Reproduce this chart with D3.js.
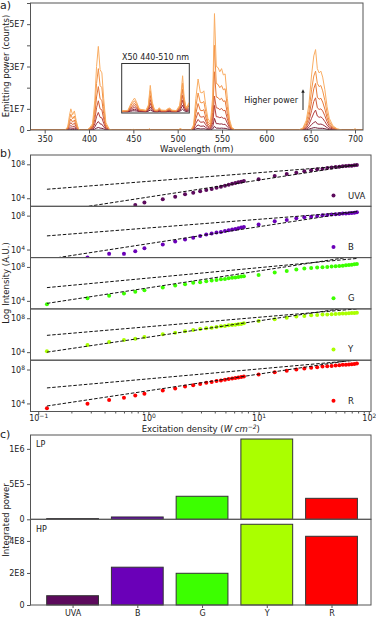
<!DOCTYPE html>
<html>
<head>
<meta charset="utf-8">
<title>Emission spectra</title>
<script src="https://d3js.org/d3.v7.min.js"></script>
<style>
  body { margin: 0; background: #fff; }
  svg text { font-family: 'DejaVu Sans', sans-serif; fill: #222; }
</style>
</head>
<body>
<div class="chart"></div>
<script>

// ---------- a) spectra (counts / 1E7), lowest power first ----------
const wavelengths = [
  334, 373, 376, 378, 379.5, 381.5, 383.5, 385.5, 388, 390,
  398, 401, 404, 406.5, 408.5, 410.5, 412.5, 414.5, 416.5, 419,
  423, 426, 447, 450, 453, 466, 468, 470, 500, 503,
  506, 515, 518, 520.5, 523, 525.5, 527.5, 529.5, 531.5, 534,
  537, 539.5, 541.5, 543.5, 545.5, 547.5, 549.5, 551.5, 553.5, 556,
  558.5, 561, 565, 636, 641, 645, 648, 651, 653.5, 655.5,
  657.5, 659.5, 661.5, 663.5, 666, 668.5, 671, 675, 680, 686,
  697, 700, 703, 709
]

const spectra = [
  [0, 0, 0, 0.02, 0.03, 0.02, 0.03, 0.01, 0, 0,
   0, 0, 0.01, 0.04, 0.09, 0.12, 0.09, 0.08, 0.05, 0.01,
   0, 0, 0, 0, 0, 0, 0, 0, 0, 0,
   0, 0, 0.01, 0.05, 0.07, 0.05, 0.05, 0.06, 0.04, 0.02,
   0.01, 0.05, 0.17, 0.09, 0.09, 0.08, 0.09, 0.08, 0.08, 0.05,
   0.02, 0, 0, 0, 0, 0.01, 0.04, 0.08, 0.11, 0.11,
   0.09, 0.08, 0.08, 0.08, 0.06, 0.03, 0.02, 0.01, 0, 0,
   0, 0, 0, 0],
  [0, 0, 0.02, 0.07, 0.1, 0.07, 0.09, 0.05, 0.01, 0,
   0, 0.01, 0.03, 0.14, 0.3, 0.4, 0.29, 0.27, 0.15, 0.04,
   0, 0, 0, 0, 0, 0, 0.01, 0, 0, 0.01,
   0, 0, 0.03, 0.15, 0.24, 0.18, 0.18, 0.19, 0.12, 0.06,
   0.04, 0.16, 0.55, 0.3, 0.3, 0.28, 0.29, 0.26, 0.27, 0.15,
   0.05, 0.01, 0, 0, 0.01, 0.05, 0.12, 0.26, 0.35, 0.4,
   0.29, 0.27, 0.28, 0.25, 0.19, 0.11, 0.06, 0.02, 0, 0,
   0, 0.01, 0, 0],
  [0, 0, 0.03, 0.15, 0.21, 0.15, 0.19, 0.09, 0.01, 0,
   0, 0.03, 0.06, 0.29, 0.63, 0.83, 0.6, 0.57, 0.32, 0.07,
   0.01, 0, 0, 0.01, 0, 0, 0.01, 0, 0, 0.01,
   0, 0, 0.05, 0.32, 0.5, 0.37, 0.37, 0.39, 0.25, 0.12,
   0.07, 0.34, 1.16, 0.63, 0.62, 0.58, 0.61, 0.55, 0.56, 0.32,
   0.11, 0.03, 0, 0, 0.02, 0.09, 0.25, 0.55, 0.8, 0.94,
   0.66, 0.6, 0.62, 0.55, 0.4, 0.23, 0.12, 0.04, 0.01, 0,
   0, 0.01, 0, 0],
  [0, 0, 0.05, 0.25, 0.35, 0.25, 0.32, 0.16, 0.02, 0,
   0, 0.04, 0.1, 0.49, 1.05, 1.38, 1.0, 0.95, 0.53, 0.12,
   0.01, 0, 0, 0.01, 0, 0, 0.02, 0, 0, 0.02,
   0, 0, 0.09, 0.53, 0.84, 0.62, 0.61, 0.65, 0.42, 0.19,
   0.12, 0.56, 1.6, 1.05, 1.03, 0.96, 1.02, 0.91, 0.93, 0.53,
   0.18, 0.04, 0, 0, 0.03, 0.16, 0.42, 0.91, 1.35, 1.52,
   1.05, 0.97, 1.0, 0.9, 0.67, 0.39, 0.19, 0.07, 0.02, 0,
   0, 0.02, 0, 0],
  [0, 0, 0.08, 0.36, 0.52, 0.37, 0.47, 0.23, 0.03, 0,
   0, 0.06, 0.16, 0.73, 1.56, 2.05, 1.48, 1.4, 0.78, 0.18,
   0.02, 0, 0, 0.02, 0, 0, 0.03, 0, 0, 0.03,
   0, 0, 0.13, 0.78, 1.25, 0.93, 0.91, 0.96, 0.62, 0.29,
   0.18, 0.83, 2.75, 1.56, 1.53, 1.43, 1.5, 1.35, 1.38, 0.78,
   0.26, 0.06, 0, 0, 0.04, 0.23, 0.62, 1.35, 1.95, 2.2,
   1.55, 1.45, 1.5, 1.32, 0.99, 0.57, 0.29, 0.1, 0.03, 0,
   0, 0.03, 0, 0],
  [0, 0, 0.1, 0.5, 0.75, 0.52, 0.66, 0.33, 0.04, 0,
   0, 0.09, 0.22, 1.0, 2.2, 2.9, 2.1, 2.0, 1.1, 0.25,
   0.02, 0, 0, 0.02, 0, 0, 0.04, 0, 0, 0.05,
   0, 0, 0.18, 1.1, 1.75, 1.3, 1.28, 1.35, 0.88, 0.4,
   0.26, 1.2, 4.0, 2.2, 2.15, 2.0, 2.1, 1.9, 1.95, 1.1,
   0.36, 0.09, 0, 0, 0.06, 0.33, 0.88, 1.9, 2.55, 2.78,
   2.2, 2.05, 2.1, 1.85, 1.4, 0.8, 0.4, 0.15, 0.04, 0,
   0, 0.04, 0, 0],
  [0, 0, 0.15, 0.7, 1.0, 0.72, 0.9, 0.45, 0.05, 0,
   0, 0.12, 0.3, 1.4, 3.0, 3.95, 2.85, 2.7, 1.5, 0.35,
   0.03, 0, 0, 0.03, 0, 0, 0.05, 0, 0, 0.06,
   0, 0, 0.25, 1.5, 2.41, 1.78, 1.75, 1.85, 1.2, 0.55,
   0.35, 1.6, 5.5, 3.0, 2.95, 2.75, 2.9, 2.6, 2.65, 1.5,
   0.5, 0.12, 0, 0, 0.08, 0.45, 1.2, 2.6, 3.5, 3.8,
   2.9, 2.7, 2.78, 2.5, 1.9, 1.1, 0.55, 0.2, 0.05, 0,
   0, 0.05, 0, 0]
]

// inset: 440-510 nm multiplied by 50
const insetWavelengths = [440, 446, 449, 451, 453, 455, 458, 465, 467.5, 469.5, 471.5, 474, 477, 479, 481, 486, 488, 490, 492, 497, 500.5, 502, 503.5, 505, 507, 509, 510]
const insetSpectra = [
  [0, 0, 0.02, 0.04, 0.04, 0.03, 0.01, 0, 0.02, 0.08, 0.03, 0, 0, 0.01, 0, 0, 0.01, 0.01, 0, 0, 0.02, 0.06, 0.11, 0.05, 0.01, 0.02, 0.03],
  [0.01, 0.01, 0.06, 0.09, 0.11, 0.08, 0.02, 0.01, 0.05, 0.22, 0.08, 0.01, 0.01, 0.03, 0.01, 0.01, 0.03, 0.03, 0.01, 0.01, 0.05, 0.16, 0.3, 0.13, 0.04, 0.05, 0.08],
  [0.01, 0.02, 0.11, 0.16, 0.2, 0.14, 0.04, 0.02, 0.1, 0.38, 0.14, 0.03, 0.02, 0.06, 0.02, 0.02, 0.04, 0.05, 0.02, 0.02, 0.1, 0.29, 0.52, 0.22, 0.06, 0.1, 0.13],
  [0.02, 0.03, 0.16, 0.23, 0.29, 0.21, 0.06, 0.03, 0.14, 0.55, 0.21, 0.04, 0.03, 0.08, 0.03, 0.03, 0.06, 0.08, 0.03, 0.02, 0.14, 0.41, 0.75, 0.32, 0.09, 0.14, 0.19],
  [0.02, 0.04, 0.22, 0.31, 0.38, 0.28, 0.07, 0.04, 0.19, 0.74, 0.28, 0.05, 0.04, 0.11, 0.04, 0.04, 0.09, 0.11, 0.04, 0.03, 0.19, 0.56, 1.02, 0.43, 0.12, 0.19, 0.26],
  [0.03, 0.05, 0.28, 0.4, 0.5, 0.36, 0.1, 0.05, 0.24, 0.96, 0.36, 0.06, 0.06, 0.14, 0.06, 0.05, 0.11, 0.14, 0.06, 0.04, 0.24, 0.72, 1.31, 0.56, 0.16, 0.24, 0.34],
  [0.04, 0.06, 0.35, 0.5, 0.62, 0.45, 0.12, 0.06, 0.3, 1.2, 0.45, 0.08, 0.07, 0.18, 0.07, 0.06, 0.14, 0.17, 0.07, 0.05, 0.3, 0.9, 1.64, 0.7, 0.2, 0.3, 0.42]
]

const aXTicks = [350, 400, 450, 500, 550, 600, 650, 700]
const aYTicks = [0, 1, 2, 3, 4, 5, 6]
const aYLabels = ['0', '1E7', '', '3E7', '', '5E7', '']

// ---------- b) log intensity vs excitation density ----------
const bands = ['UVA', 'B', 'G', 'Y', 'R']
const densities = [0.12, 0.28, 0.44, 0.6, 0.76, 0.92,
  1.35, 1.75, 2.15, 2.55, 2.95, 3.35, 3.75, 4.15, 4.55, 4.95, 5.35, 5.75, 6.15, 6.55, 6.95, 7.35,
  10, 14, 18, 22, 26, 30, 34, 38, 42, 46, 50, 54, 58, 62, 66, 70, 74, 78]
// log10 of intensity
const logUVA = [null, null, null, null, 3.21, 3.51, 3.88, 4.19, 4.47, 4.66, 4.82, 4.98, 5.09, 5.25, 5.36, 5.48, 5.6, 5.72, 5.8, 5.88, 5.95, 6.04, 6.24, 6.62, 6.86, 7.01, 7.17, 7.29, 7.41, 7.48, 7.56, 7.62, 7.68, 7.72, 7.76, 7.8, 7.82, 7.84, 7.88, 7.92]
const logB = [null, 3.05, 3.49, 3.49, 3.8, 4.15, 4.59, 4.94, 5.18, 5.38, 5.61, 5.76, 5.88, 6.0, 6.08, 6.2, 6.27, 6.35, 6.43, 6.51, 6.59, 6.67, 6.94, 7.33, 7.49, 7.68, 7.8, 7.88, 7.96, 8.04, 8.08, 8.12, 8.15, 8.2, 8.24, 8.26, 8.27, 8.32, 8.35, 8.39]
const logG = [3.61, 4.32, 4.59, 4.86, 5.06, 5.26, 5.56, 5.8, 5.96, 6.12, 6.2, 6.32, 6.39, 6.47, 6.55, 6.59, 6.67, 6.71, 6.74, 6.82, 6.86, 6.9, 7.06, 7.33, 7.53, 7.69, 7.8, 7.88, 7.92, 7.96, 8.0, 8.04, 8.08, 8.12, 8.15, 8.2, 8.24, 8.27, 8.32, 8.35]
const logY = [4.12, 4.83, 5.19, 5.43, 5.58, 5.78, 6.1, 6.29, 6.46, 6.61, 6.73, 6.81, 6.88, 6.97, 7.05, 7.09, 7.17, 7.2, 7.24, 7.29, 7.32, 7.41, 7.68, 7.88, 8.07, 8.19, 8.27, 8.36, 8.39, 8.43, 8.45, 8.47, 8.51, 8.53, 8.55, 8.57, 8.59, 8.61, 8.63, 8.66]
const logR = [3.43, 3.97, 4.4, 4.67, 4.94, 5.13, 5.52, 5.76, 5.99, 6.14, 6.29, 6.45, 6.52, 6.64, 6.72, 6.8, 6.87, 6.95, 7.01, 7.07, 7.13, 7.19, 7.42, 7.69, 7.85, 8.0, 8.12, 8.2, 8.27, 8.35, 8.38, 8.43, 8.47, 8.5, 8.55, 8.56, 8.58, 8.62, 8.66, 8.7]
// dashed guide lines [x0, log y0, x1, log y1]
const fitUpper = [[0.12, 5.06, 78, 7.92], [0.12, 5.61, 78, 8.47], [0.12, 5.56, 78, 9.0], [0.12, 5.98, 78, 9.1], [0.12, 5.83, 78, 9.1]]
const fitLower = [[0.12, 2.3, 78, 7.92], [0.12, 2.85, 78, 8.47], [0.12, 3.7, 78, 9.3], [0.12, 4.0, 78, 9.4], [0.12, 3.7, 78, 9.2]]

// ---------- c) integrated power ----------
const lowPower = [0.01, 0.033, 0.327, 1.14, 0.298]   // x 1E6
const highPower = [0.58, 2.36, 1.98, 5.04, 4.29]     // x 1E8
const lpTicks = [0, 0.5, 1]
const lpLabels = ['0', '5E5', '1E6']
const hpTicks = [0, 2, 4]
const hpLabels = ['0', '2E8', '4E8']

// colours
const lineColors = ['#6d1a36', '#922b3e', '#b33f3e', '#cf5a3a', '#e57637', '#f29145', '#f9ad63']
const bandColors = ['#5c0a5c', '#6a00b8', '#3cff00', '#aaff00', '#ff0000']
const frameColor = '#555'

var width = 376
var height = 617

var svg = d3.select('.chart')
  .append('svg')
  .attr('width', width)
  .attr('height', height)

const defs = svg.append('defs')

function frame(x0, y0, x1, y1) {
  svg.append('rect')
    .attr('x', x0).attr('y', y0)
    .attr('width', x1 - x0).attr('height', y1 - y0)
    .attr('fill', 'none')
    .attr('stroke', frameColor)
    .attr('stroke-width', 1)
}

function styleAxis(g) {
  g.select('.domain').remove()
  g.selectAll('line').attr('stroke', frameColor)
  g.selectAll('text').attr('font-size', 8).attr('fill', '#222')
}

function clip(id, x0, y0, x1, y1) {
  defs.append('clipPath').attr('id', id)
    .append('rect').attr('x', x0).attr('y', y0).attr('width', x1 - x0).attr('height', y1 - y0)
  return 'url(#' + id + ')'
}

function supLabels(g) {
  g.selectAll('.tick text').each(function (d) {
    const e = Math.round(Math.log10(d))
    const t = d3.select(this)
    t.text('10')
    t.append('tspan').attr('dy', '-0.45em').attr('font-size', 6)
      .text(e < 0 ? '\u2212' + (-e) : e)
  })
}

function panelLabel(txt, x, y) {
  svg.append('text').attr('x', x).attr('y', y).attr('font-size', 11).text(txt)
}

function yLabel(txt, cy) {
  svg.append('text')
    .attr('transform', `translate(8.5, ${cy}) rotate(-90)`)
    .attr('text-anchor', 'middle')
    .attr('font-size', 8.5)
    .text(txt)
}

/**
 * a) spectra
 */
const aL = 30.5, aR = 363, aT = 3, aB = 130
const ax = d3.scaleLinear().domain([334, 709]).range([aL, aR])
const ay = d3.scaleLinear().domain([0, 6]).range([aB, aT])

const specLine = d3.line()
  .x((d, i) => ax(wavelengths[i]))
  .y((d) => ay(d))

svg.append('g')
  .attr('clip-path', clip('clipA', aL, aT, aR, aB))
  .selectAll('path')
  .data(spectra)
  .enter()
  .append('path')
  .attr('d', specLine)
  .attr('fill', 'none')
  .attr('stroke', (d, i) => lineColors[i])
  .attr('stroke-width', 1)

frame(aL, aT, aR, aB)

svg.append('g')
  .attr('transform', `translate(0, ${aB})`)
  .call(d3.axisBottom(ax).tickValues(aXTicks).tickFormat(d3.format('d')).tickSize(3.5).tickPadding(2.5))
  .call(styleAxis)

svg.append('g')
  .attr('transform', `translate(${aL}, 0)`)
  .call(d3.axisLeft(ay).tickValues(aYTicks).tickFormat((d, i) => aYLabels[i]).tickSize(3.5).tickPadding(2.5))
  .call(styleAxis)

svg.append('text').attr('x', (aL + aR) / 2).attr('y', 152).attr('text-anchor', 'middle')
  .attr('font-size', 8.5).text('Wavelength (nm)')
yLabel('Emitting power (counts)', 66)
panelLabel('a)', 0, 9)

// inset
const iL = 121.7, iR = 189.3, iT = 63.5, iB = 113
const ix = d3.scaleLinear().domain([440, 510]).range([iL + 0.5, iR - 0.5])
const iy = d3.scaleLinear().domain([-0.06, 2.2]).range([iB, iT])
const insetLine = d3.line()
  .x((d, i) => ix(insetWavelengths[i]))
  .y((d) => iy(d))

svg.append('rect').attr('x', iL).attr('y', iT).attr('width', iR - iL).attr('height', iB - iT)
  .attr('fill', '#fff').attr('stroke', '#333').attr('stroke-width', 1)

svg.append('g')
  .attr('clip-path', clip('clipI', iL, iT, iR, iB))
  .selectAll('path')
  .data(insetSpectra)
  .enter()
  .append('path')
  .attr('d', insetLine)
  .attr('fill', 'none')
  .attr('stroke', (d, i) => lineColors[i])
  .attr('stroke-width', 1)

svg.append('text').attr('x', (iL + iR) / 2).attr('y', 60).attr('text-anchor', 'middle')
  .attr('font-size', 8).text('X50 440-510 nm')

// higher power arrow
defs.append('marker')
  .attr('id', 'arrow')
  .attr('viewBox', '0 0 10 10')
  .attr('refX', 5).attr('refY', 5)
  .attr('markerWidth', 3.5).attr('markerHeight', 3.5)
  .attr('orient', 'auto')
  .append('path').attr('d', 'M0,0L10,5L0,10z').attr('fill', '#222')

svg.append('line')
  .attr('x1', 303).attr('y1', 110).attr('x2', 303).attr('y2', 91)
  .attr('stroke', '#222').attr('stroke-width', 1)
  .attr('marker-end', 'url(#arrow)')
svg.append('text').attr('x', 298).attr('y', 103).attr('text-anchor', 'end')
  .attr('font-size', 8).text('Higher power')

/**
 * b) log intensity
 */
const bL = 30.5, bR = 371, bT = 155, rowH = 51.3
const bx = d3.scaleLog().domain([Math.pow(10, -1.07), Math.pow(10, 2.02)]).range([bL, bR])
const bandLogs = [logUVA, logB, logG, logY, logR]

bands.forEach((band, b) => {
  const top = bT + b * rowH
  const bottom = top + rowH
  const by = d3.scaleLog().domain([Math.pow(10, 3.05), Math.pow(10, 9.1)]).range([bottom, top])
  const g = svg.append('g').attr('clip-path', clip('clipB' + b, bL, top, bR, bottom))

  const pts = densities
    .map((x, i) => [x, bandLogs[b][i]])
    .filter((p) => p[1] !== null)

  g.selectAll('circle')
    .data(pts)
    .enter()
    .append('circle')
    .attr('cx', (d) => bx(d[0]))
    .attr('cy', (d) => by(Math.pow(10, d[1])))
    .attr('r', 2)
    .attr('fill', bandColors[b])

  g.selectAll('line')
    .data([fitUpper[b], fitLower[b]])
    .enter()
    .append('line')
    .attr('x1', (d) => bx(d[0]))
    .attr('y1', (d) => by(Math.pow(10, d[1])))
    .attr('x2', (d) => bx(d[2]))
    .attr('y2', (d) => by(Math.pow(10, d[3])))
    .attr('stroke', '#111')
    .attr('stroke-width', 1)
    .attr('stroke-dasharray', '3.5,1.8')

  frame(bL, top, bR, bottom)

  svg.append('g')
    .attr('transform', `translate(${bL}, 0)`)
    .call(d3.axisLeft(by).tickValues([1e4, 1e8]).tickFormat(() => '').tickSize(3.5).tickPadding(2))
    .call(styleAxis)
    .call(supLabels)

  // legend
  svg.append('circle').attr('cx', 333.5).attr('cy', bottom - 10.7).attr('r', 2).attr('fill', bandColors[b])
  svg.append('text').attr('x', 348).attr('y', bottom - 7.8).attr('font-size', 8.5).text(band)
})

const bBottom = bT + 5 * rowH
const minorTicks = []
;[0.1, 1, 10].forEach((m) => { for (let k = 2; k < 10; k++) minorTicks.push(m * k) })
svg.append('g')
  .attr('transform', `translate(0, ${bBottom})`)
  .call(d3.axisBottom(bx).tickValues(minorTicks).tickFormat(() => '').tickSize(2))
  .call(styleAxis)
svg.append('g')
  .attr('transform', `translate(0, ${bBottom})`)
  .call(d3.axisBottom(bx).tickValues([0.1, 1, 10, 100]).tickFormat(() => '').tickSize(3.5).tickPadding(0))
  .call(styleAxis)
  .call(supLabels)

const xl = svg.append('text').attr('x', (bL + bR) / 2).attr('y', 431.5).attr('text-anchor', 'middle').attr('font-size', 8.5)
xl.append('tspan').text('Excitation density (')
xl.append('tspan').attr('font-style', 'italic').text('W cm')
xl.append('tspan').attr('font-style', 'italic').attr('dy', -3).attr('font-size', 6).text('\u22122')
xl.append('tspan').attr('dy', 3).text(')')

yLabel('Log Intensity (A.U.)', 283)
panelLabel('b)', 0, 157)

/**
 * c) integrated power
 */
const cL = 30.5, cR = 371, cT = 435, cM = 519.3, cB = 605
const cx = d3.scaleLinear().domain([-0.65, 4.61]).range([cL, cR])
const cyL = d3.scaleLinear().domain([0, 1.197]).range([cM, cT])
const cyH = d3.scaleLinear().domain([0, 5.35]).range([cB, cM])

function bars(values, y) {
  svg.append('g')
    .selectAll('rect')
    .data(values)
    .enter()
    .append('rect')
    .attr('x', (d, i) => cx(i - 0.4))
    .attr('width', cx(0.4) - cx(-0.4))
    .attr('y', (d) => y(d))
    .attr('height', (d) => y(0) - y(d))
    .attr('fill', (d, i) => bandColors[i])
    .attr('stroke', '#333')
    .attr('stroke-width', 1)
}

bars(lowPower, cyL)
bars(highPower, cyH)
frame(cL, cT, cR, cM)
frame(cL, cM, cR, cB)

svg.append('g')
  .attr('transform', `translate(${cL}, 0)`)
  .call(d3.axisLeft(cyL).tickValues(lpTicks).tickFormat((d, i) => lpLabels[i]).tickSize(3.5).tickPadding(2.5))
  .call(styleAxis)
svg.append('g')
  .attr('transform', `translate(${cL}, 0)`)
  .call(d3.axisLeft(cyH).tickValues(hpTicks).tickFormat((d, i) => hpLabels[i]).tickSize(3.5).tickPadding(2.5))
  .call(styleAxis)
svg.append('g')
  .attr('transform', `translate(0, ${cB})`)
  .call(d3.axisBottom(cx).tickValues([0, 1, 2, 3, 4]).tickFormat((d) => bands[d]).tickSize(3).tickPadding(2))
  .call(styleAxis)

svg.append('text').attr('x', 36).attr('y', 447).attr('font-size', 8).text('LP')
svg.append('text').attr('x', 36).attr('y', 532).attr('font-size', 8).text('HP')
yLabel('Integrated power', 520)
panelLabel('c)', 0, 438)

</script>
</body>
</html>
